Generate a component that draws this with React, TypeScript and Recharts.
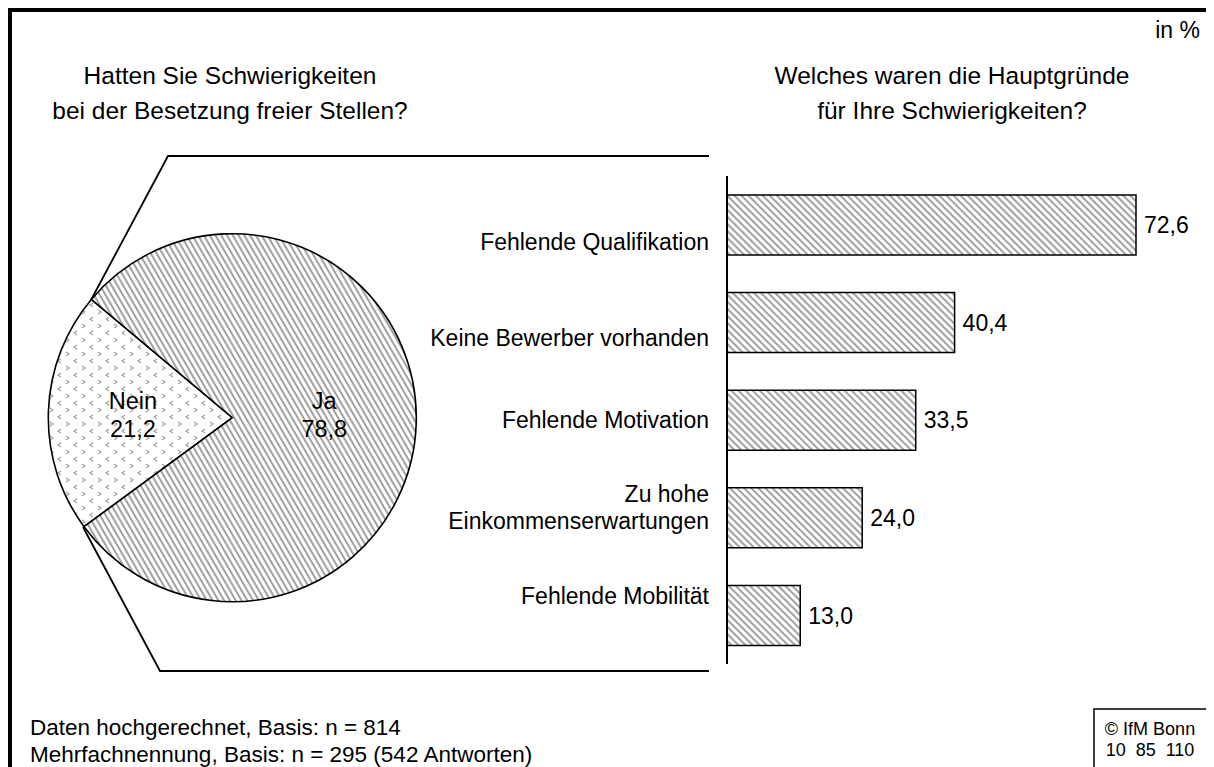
import React from 'react';
import { PieChart, Pie, Cell, BarChart, Bar, XAxis, YAxis, LabelList } from 'recharts';

const pieNames = ['Nein', 'Ja'];
const pieValues = [21.2, 78.8];

const reasonLabels = [
  'Fehlende Qualifikation',
  'Keine Bewerber vorhanden',
  'Fehlende Motivation',
  'Zu hohe\nEinkommenserwartungen',
  'Fehlende Mobilität',
];
const reasonValues = [72.6, 40.4, 33.5, 24.0, 13.0];

const leftTitle = ['Hatten Sie Schwierigkeiten', 'bei der Besetzung freier Stellen?'];
const rightTitle = ['Welches waren die Hauptgründe', 'für Ihre Schwierigkeiten?'];
const unitLabel = 'in %';
const footnotes = ['Daten hochgerechnet, Basis: n = 814', 'Mehrfachnennung, Basis: n = 295 (542 Antworten)'];
const sourceLines = ['© IfM Bonn', '10  85  110'];

const pieData = pieNames.map((n, i) => ({ name: n, value: pieValues[i] }));
const barData = reasonLabels.map((n, i) => ({ name: n, value: reasonValues[i] }));

const W = 1206;
const H = 759;
const FONT = '"Liberation Sans", Arial, Helvetica, sans-serif';
const fmt = (v: number) => v.toFixed(1).replace('.', ',');

// vertical nudges of the category labels, as drawn in the original
const labelShift = [17, 16, 0, -10, -19];
const pieLabelRadius = [0.54, 0.5];

const CategoryTick = (props: any) => {
  const { x, y, payload, index } = props;
  const lines = String(payload.value).split('\n');
  const lh = 27;
  const shift = labelShift[index] ?? 0;
  const startY = y + shift - ((lines.length - 1) * lh) / 2;
  return (
    <text x={x} y={startY} textAnchor="end" dominantBaseline="central" fontSize={23} fontFamily={FONT} fill="#000">
      {lines.map((l, i) => (
        <tspan key={i} x={x} y={startY + i * lh}>
          {l}
        </tspan>
      ))}
    </text>
  );
};

const RAD = Math.PI / 180;
const PieLabel = (props: any) => {
  const { cx, cy, midAngle, outerRadius, name, value, index } = props;
  const r = outerRadius * pieLabelRadius[index];
  const x = cx + r * Math.cos(-midAngle * RAD);
  const y = cy;
  return (
    <text x={x} y={y} textAnchor="middle" fontSize={23.5} fontFamily={FONT} fill="#000">
      <tspan x={x} y={y - 9}>{name}</tspan>
      <tspan x={x} y={y + 19}>{fmt(value)}</tspan>
    </text>
  );
};

const Patterns = () => (
  <defs>
    <pattern id="hatchBar" width="5" height="5" patternUnits="userSpaceOnUse" patternTransform="rotate(-45)">
      <rect width="5" height="5" fill="#fff" />
      <line x1="1" y1="0" x2="1" y2="5" stroke="#8a8a8a" strokeWidth="1.6" />
    </pattern>
    <pattern id="hatchPie" width="5" height="5" patternUnits="userSpaceOnUse" patternTransform="rotate(-30)">
      <rect width="5" height="5" fill="#fff" />
      <line x1="1" y1="0" x2="1" y2="5" stroke="#8a8a8a" strokeWidth="1.6" />
    </pattern>
    <pattern id="dotsPie" width="16" height="14" patternUnits="userSpaceOnUse">
      <rect width="16" height="14" fill="#fff" />
      <polyline points="5,1 2,3 5,5" fill="none" stroke="#a0a0a0" strokeWidth="1.1" />
      <polyline points="10,8 13,10 10,12" fill="none" stroke="#a0a0a0" strokeWidth="1.1" />
    </pattern>
  </defs>
);

export default function App() {
  return (
    <div style={{ position: 'relative', width: W, height: H, fontFamily: FONT, background: '#fff' }}>
      <svg width={W} height={H} style={{ position: 'absolute', left: 0, top: 0 }}>
        <line x1={0} y1={2} x2={W} y2={2} stroke="#000" strokeWidth={4} />
        <line x1={2} y1={0} x2={2} y2={H} stroke="#000" strokeWidth={4} />
        <text x={1192} y={30} textAnchor="end" fontSize={23} fontFamily={FONT}>{unitLabel}</text>
        {leftTitle.map((t, i) => (
          <text key={'l' + i} x={222} y={76 + i * 35} textAnchor="middle" fontSize={24.5} fontFamily={FONT}>{t}</text>
        ))}
        {rightTitle.map((t, i) => (
          <text key={'r' + i} x={944} y={76 + i * 35} textAnchor="middle" fontSize={24.5} fontFamily={FONT}>{t}</text>
        ))}
        <polyline points="83,292 160,148 701,148" fill="none" stroke="#000" strokeWidth={1.8} />
        <polyline points="75,519 152,663 701,663" fill="none" stroke="#000" strokeWidth={1.8} />
        {footnotes.map((t, i) => (
          <text key={'f' + i} x={22} y={727 + i * 27} fontSize={22.5} fontFamily={FONT}>{t}</text>
        ))}
        <polyline points={`1086,${H} 1086,701 ${W},701`} fill="none" stroke="#000" strokeWidth={1.5} />
        {sourceLines.map((t, i) => (
          <text key={'s' + i} x={1142} y={727 + i * 21} textAnchor="middle" fontSize={18} fontFamily={FONT} style={{ whiteSpace: 'pre' }}>{t}</text>
        ))}
      </svg>

      <div style={{ position: 'absolute', left: 0, top: 0 }}>
        <PieChart width={W} height={H} margin={{ top: 0, right: 0, bottom: 0, left: 0 }}>
          <Patterns />
          <Pie
            data={pieData}
            dataKey="value"
            nameKey="name"
            cx={224.3}
            cy={409.7}
            outerRadius={184}
            startAngle={140}
            endAngle={500}
            stroke="#000"
            strokeWidth={1.6}
            label={PieLabel}
            labelLine={false}
            isAnimationActive={false}
          >
            <Cell fill="url(#dotsPie)" />
            <Cell fill="url(#hatchPie)" />
          </Pie>
        </PieChart>
      </div>

      <div style={{ position: 'absolute', left: 0, top: 0 }}>
        <BarChart
          width={W}
          height={H}
          layout="vertical"
          data={barData}
          margin={{ top: 168, right: 36.3, bottom: 103, left: 0 }}
          barCategoryGap={0}
        >
          <Patterns />
          <XAxis type="number" domain={[0, 80]} hide />
          <YAxis
            type="category"
            dataKey="name"
            width={719}
            axisLine={{ stroke: '#000', strokeWidth: 2 }}
            tickLine={false}
            tickSize={10}
            tickMargin={8}
            tick={<CategoryTick />}
            interval={0}
          />
          <Bar dataKey="value" barSize={60} fill="url(#hatchBar)" stroke="#000" strokeWidth={1.5} isAnimationActive={false}>
            <LabelList
              dataKey="value"
              position="right"
              offset={8}
              formatter={(v: any) => fmt(Number(v))}
              style={{ fontSize: 23, fontFamily: FONT, fill: '#000' }}
            />
          </Bar>
        </BarChart>
      </div>
    </div>
  );
}
